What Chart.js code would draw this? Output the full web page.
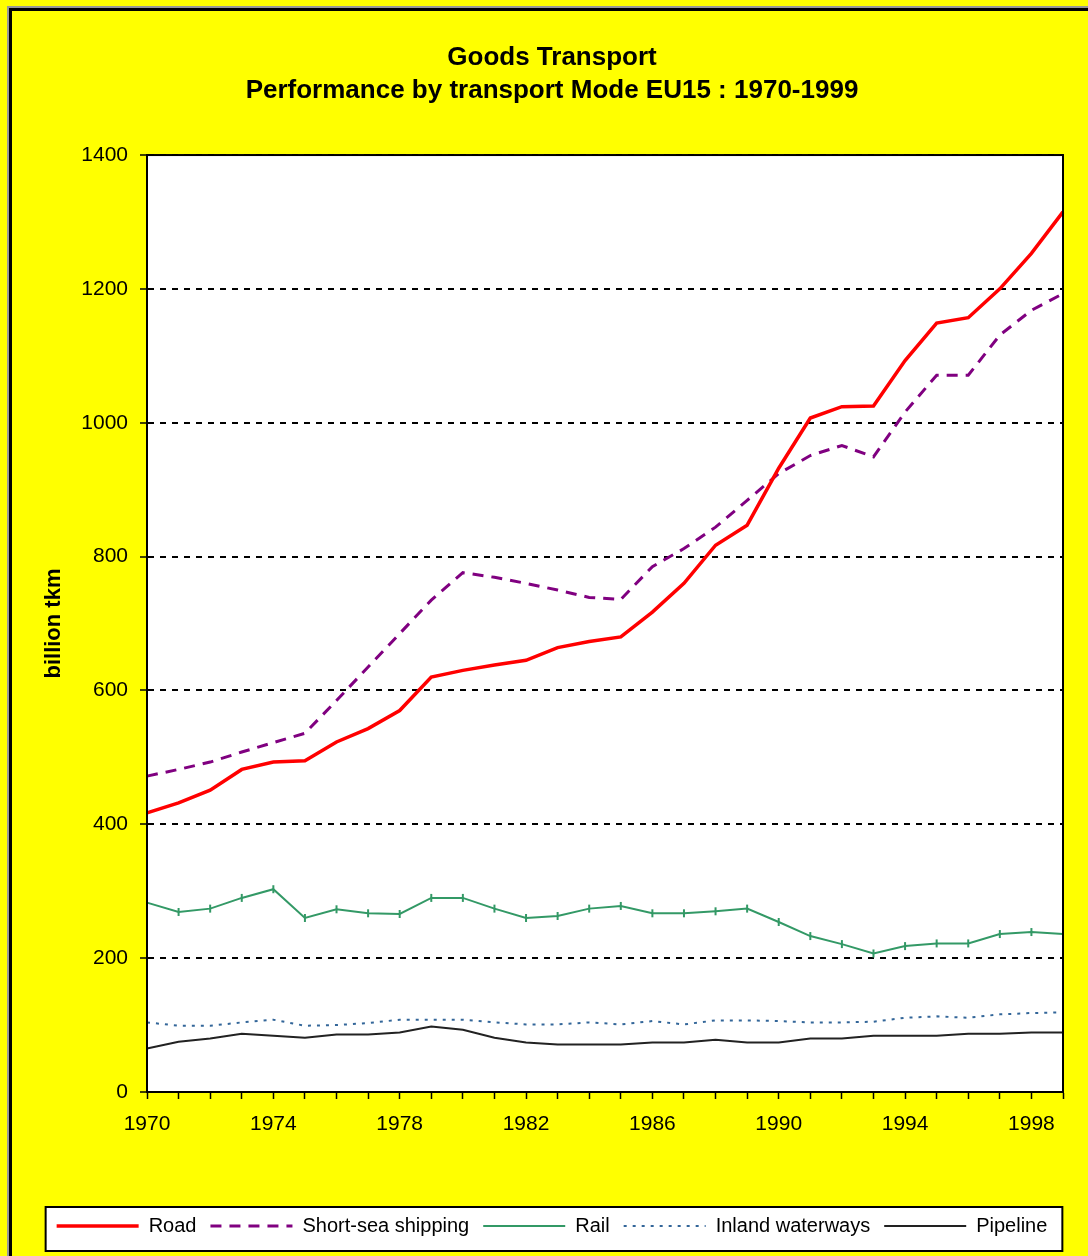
<!DOCTYPE html>
<html>
<head>
<meta charset="utf-8">
<script src="https://cdn.jsdelivr.net/npm/chart.js@4"></script>
<style>
    body { margin: 0; background: #ffff00; width: 1088px; height: 1256px; overflow: hidden; position: relative; }
    #frame { position: absolute; left: 9px; top: 8px; width: 1100px; height: 1270px; border: 3px solid #000; box-shadow: -2px -2px 0 #999; }
    #c { position: absolute; left: 0; top: 0; }
</style>
</head>
<body>
<div id="frame"></div>
<canvas id="c" width="1088" height="1256"></canvas>
<script>
// categories
const years = ['1970', '1971', '1972', '1973', '1974', '1975', '1976', '1977', '1978', '1979',
    '1980', '1981', '1982', '1983', '1984', '1985', '1986', '1987', '1988', '1989',
    '1990', '1991', '1992', '1993', '1994', '1995', '1996', '1997', '1998', '1999'];

// billion tkm
const road = [417, 432, 451, 482, 493, 495, 523, 543, 570, 620, 630, 638, 645, 664, 673,
    680, 717, 760, 817, 847, 932, 1007, 1024, 1025, 1093, 1149, 1157, 1200, 1253, 1315];
const shortSea = [472, 482, 493, 508, 522, 536, 585, 635, 685, 735, 776, 769, 760, 750, 739,
    736, 785, 812, 844, 884, 924, 951, 966, 949, 1016, 1071, 1071, 1131, 1168, 1193];
const rail = [283, 269, 274, 290, 303, 260, 273, 267, 266, 290, 290, 274, 260, 263, 274,
    278, 267, 267, 270, 274, 254, 233, 221, 207, 218, 222, 222, 236, 239, 236];
const inland = [104, 99, 99, 104, 108, 99, 100, 103, 108, 108, 108, 104, 101, 101, 104,
    101, 106, 101, 107, 107, 106, 104, 104, 105, 111, 113, 111, 116, 118, 119];
const pipeline = [65, 75, 80, 87, 84, 81, 86, 86, 89, 98, 93, 81, 74, 71, 71,
    71, 74, 74, 78, 74, 74, 80, 80, 84, 84, 84, 87, 87, 89, 89];

const seriesNames = ['Road', 'Short-sea shipping', 'Rail', 'Inland waterways', 'Pipeline'];
const yTicks = [0, 200, 400, 600, 800, 1000, 1200, 1400];

const FONT = 'Liberation Sans, Arial, sans-serif';

// white plot area with black frame, white legend box
const boxes = {
    id: 'boxes',
    beforeDraw(chart) {
        const ctx = chart.ctx;
        const a = chart.chartArea;
        ctx.save();
        ctx.fillStyle = '#fff';
        ctx.fillRect(a.left, a.top, a.right - a.left, a.bottom - a.top);
        const lg = chart.legend;
        if (lg && lg.legendHitBoxes.length) {
            const hb = lg.legendHitBoxes;
            const l = Math.min(...hb.map(h => h.left)) - 11;
            const r = Math.max(...hb.map(h => h.left + h.width)) + 15;
            const t = lg.top + 5;
            const b = lg.bottom + 5;
            ctx.fillRect(l, t, r - l, b - t);
            ctx.strokeStyle = '#000';
            ctx.lineWidth = 2;
            ctx.strokeRect(l, t, r - l, b - t);
        }
        ctx.restore();
    },
    afterDraw(chart) {
        const ctx = chart.ctx;
        const a = chart.chartArea;
        ctx.save();
        ctx.strokeStyle = '#000';
        ctx.lineWidth = 2;
        ctx.strokeRect(a.left, a.top, a.right - a.left, a.bottom - a.top);
        ctx.restore();
    }
};

const ctx = document.getElementById('c').getContext('2d');
new Chart(ctx, {
    type: 'line',
    data: {
        labels: years,
        datasets: [{
            label: seriesNames[0],
            data: road,
            borderColor: '#ff0000',
            backgroundColor: '#ff0000',
            borderWidth: 3.5,
            pointRadius: 0
        }, {
            label: seriesNames[1],
            data: shortSea,
            borderColor: '#800080',
            backgroundColor: '#800080',
            borderWidth: 3,
            borderDash: [11, 8],
            pointRadius: 0
        }, {
            label: seriesNames[2],
            data: rail,
            borderColor: '#339966',
            backgroundColor: '#339966',
            borderWidth: 2,
            pointStyle: 'line',
            rotation: 90,
            pointRadius: 4,
            pointBorderWidth: 2
        }, {
            label: seriesNames[3],
            data: inland,
            borderColor: '#336699',
            backgroundColor: '#336699',
            borderWidth: 2,
            borderDash: [3, 6],
            pointRadius: 0
        }, {
            label: seriesNames[4],
            data: pipeline,
            borderColor: '#222',
            backgroundColor: '#222',
            borderWidth: 2,
            pointRadius: 0
        }]
    },
    options: {
        responsive: false,
        animation: false,
        layout: { padding: { left: 41, right: 25, top: 0, bottom: 10 } },
        elements: { line: { tension: 0 } },
        plugins: {
            title: {
                display: true,
                text: ['Goods Transport', 'Performance by transport Mode EU15 : 1970-1999'],
                color: '#000',
                font: { family: FONT, size: 26, weight: 'bold', lineHeight: 1.27 },
                padding: { top: 41, bottom: 48 }
            },
            legend: {
                position: 'bottom',
                labels: {
                    color: '#000',
                    font: { family: FONT, size: 20 },
                    usePointStyle: true,
                    pointStyleWidth: 82,
                    padding: 14,
                    // legend samples follow each dataset's own line width and dash
                    generateLabels: chart => Chart.defaults.plugins.legend.labels.generateLabels(chart)
                        .map(item => {
                            const ds = chart.data.datasets[item.datasetIndex];
                            return {
                                ...item,
                                pointStyle: 'line',
                                rotation: 0,
                                lineWidth: ds.borderWidth,
                                lineDash: ds.borderDash || [],
                                strokeStyle: ds.borderColor
                            };
                        })
                }
            },
            tooltip: { enabled: false }
        },
        scales: {
            x: {
                offset: false,
                grid: { drawOnChartArea: false, drawTicks: true, tickLength: 7, color: '#000', tickWidth: 1.5 },
                border: { color: '#000', width: 2 },
                ticks: {
                    autoSkip: false,
                    maxRotation: 0,
                    padding: 13,
                    color: '#000',
                    font: { family: FONT, size: 21 },
                    callback: (v, i) => (i % 4 === 0 ? years[i] : '')
                },
                afterFit: scale => { scale.height = 110; }
            },
            y: {
                min: yTicks[0],
                max: yTicks[yTicks.length - 1],
                afterBuildTicks: scale => { scale.ticks = yTicks.map(v => ({ value: v })); },
                grid: { color: '#000', lineWidth: 2, tickLength: 7, tickColor: '#000', tickWidth: 1.5 },
                border: { color: '#000', width: 2, dash: [6, 6] },
                ticks: {
                    padding: 12,
                    color: '#000',
                    font: { family: FONT, size: 21 },
                    callback: v => String(v)
                },
                title: {
                    display: true,
                    text: 'billion tkm',
                    color: '#000',
                    font: { family: FONT, size: 22, weight: 'bold' },
                    padding: 0
                },
                afterFit: scale => { scale.width = 106; }
            }
        }
    },
    plugins: [boxes]
});
</script>
</body>
</html>
